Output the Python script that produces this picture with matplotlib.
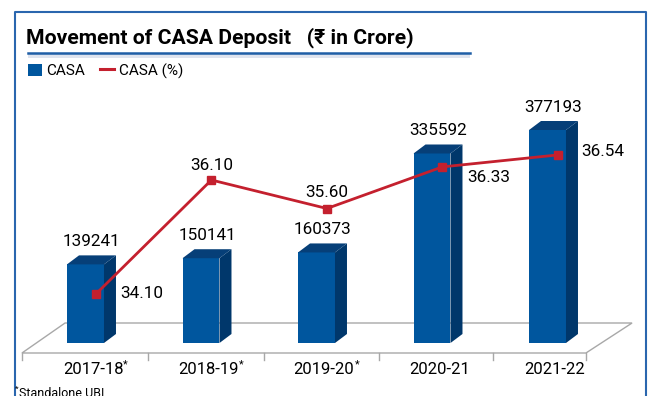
import matplotlib
matplotlib.use("Agg")
import matplotlib.pyplot as plt
from matplotlib.patches import Polygon, Rectangle, Patch
from matplotlib.lines import Line2D

plt.rcParams['font.family'] = ['Roboto', 'DejaVu Sans']

# data
years = ["2017-18", "2018-19", "2019-20", "2020-21", "2021-22"]
starred = [True, True, True, False, False]
casa = [139241, 150141, 160373, 335592, 377193]
casa_pct = [34.10, 36.10, 35.60, 36.33, 36.54]

# label offsets for the % line (pixels)
pct_offsets = [(46, 0), (0, 14), (0, 16), (46, -11), (45, 3)]

W, H = 649, 396
FRONT = "#00569e"
SIDE = "#00376b"
TOP = "#063f78"
RED = "#c4202e"
FRAME = "#2a66ae"
GRID = "#a8a8a8"

def fx(px):
    return px / W

def fy(py):
    return 1 - py / H

fig = plt.figure(figsize=(W / 100, H / 100), dpi=100)

# outer frame, open at the bottom
fig.add_artist(Line2D([fx(15), fx(15), fx(646), fx(646)],
                      [fy(400), fy(12), fy(12), fy(400)],
                      color=FRAME, lw=1.5))

# title with underline
fig.text(fx(26), fy(38), "Movement of CASA Deposit   (\u20b9 in Crore)",
         fontsize=15.2, fontweight="bold", va="center", ha="left")
fig.add_artist(Rectangle((fx(28), fy(58)), fx(470) - fx(28), fy(53) - fy(58),
                         color="#dfe4ee", lw=0))
fig.add_artist(Line2D([fx(28), fx(470)], [fy(52.5), fy(52.5)], color="#1f5ea6", lw=1.8))

# legend
fig.legend(handles=[Patch(facecolor=FRONT, edgecolor="none", label="CASA"),
                    Line2D([0], [0], color=RED, lw=2.2, label="CASA (%)")],
           loc="center left", bbox_to_anchor=(fx(28), fy(71)), ncol=2, frameon=False,
           fontsize=11, handlelength=0.9, handleheight=0.9, handletextpad=0.3,
           columnspacing=1.0, borderaxespad=0, borderpad=0)

# main axes: category index on x, value on y
x0, x1 = 27.75, 605.25
ax = fig.add_axes([fx(x0), fy(343), fx(x1) - fx(x0), fy(100) - fy(343)])
ax.set_xlim(-0.5, 4.5)
ymax = 243 * max(casa) / 213
ax.set_ylim(0, ymax)
ax.axis("off")

upp = ymax / 243          # value units per pixel
dx = 12 / 115.5           # bar depth, x
dy = 9 * upp              # bar depth, y
hw = 0.16                 # half width of front face

# floor
floor_back = 20 * upp
floor_front = -10 * upp
ax.add_patch(Polygon([(-0.55, floor_front), (-0.177, floor_back), (4.732, floor_back),
                      (4.333, floor_front)], closed=True, fill=False,
                     edgecolor=GRID, lw=1.0, clip_on=False))
for t in [-0.55, 0.541, 1.545, 2.541, 3.528, 4.333]:
    ax.plot([t, t], [floor_front, floor_front - 7 * upp], color=GRID, lw=1.0, clip_on=False)

# 3d bars
idx = list(range(len(years)))
ax.bar(idx, casa, width=2 * hw, color=FRONT, zorder=3)
for i, v in zip(idx, casa):
    ax.add_patch(Polygon([(i + hw, 0), (i + hw + dx, dy), (i + hw + dx, v + dy), (i + hw, v)],
                         closed=True, facecolor=SIDE, edgecolor="none", zorder=3, clip_on=False))
    ax.add_patch(Polygon([(i - hw, v), (i + hw, v), (i + hw + dx, v + dy), (i - hw + dx, v + dy)],
                         closed=True, facecolor=TOP, edgecolor="none", zorder=3, clip_on=False))
    ax.annotate(f"{v}", (i + dx / 2, v + dy), xytext=(0, 14), textcoords="offset pixels",
                ha="center", va="center", fontsize=12.3, clip_on=False)

# category labels, asterisk as superscript
for i, (lab, st) in enumerate(zip(years, starred)):
    t = ax.annotate(lab, (i + 0.065, 0), xytext=(0, -26), textcoords="offset pixels",
                    ha="center", va="center", fontsize=12)
    if st:
        ax.annotate("*", xy=(1, 1), xycoords=t, xytext=(0, 2), textcoords="offset pixels",
                    ha="left", va="top", fontsize=8)

# CASA % line on its own scale
ax2 = ax.twinx()
ax2.set_ylim(36.10 - 163 / 57, 36.10 + 80 / 57)
ax2.axis("off")
xs = [i + 0.09 for i in idx]
ax2.plot(xs, casa_pct, color=RED, lw=2.0, marker="s", markersize=5.5, zorder=5, clip_on=False)
for x, v, (ox, oy) in zip(xs, casa_pct, pct_offsets):
    ax2.annotate(f"{v:.2f}", (x, v), xytext=(ox, oy), textcoords="offset pixels",
                 ha="center", va="center", fontsize=12.3)

# footnote
fig.text(fx(19), fy(387), "Standalone UBI", fontsize=9, va="top", ha="left")
fig.text(fx(15), fy(386), "*", fontsize=6, va="top", ha="left")

fig.savefig("out.png", dpi=100)
